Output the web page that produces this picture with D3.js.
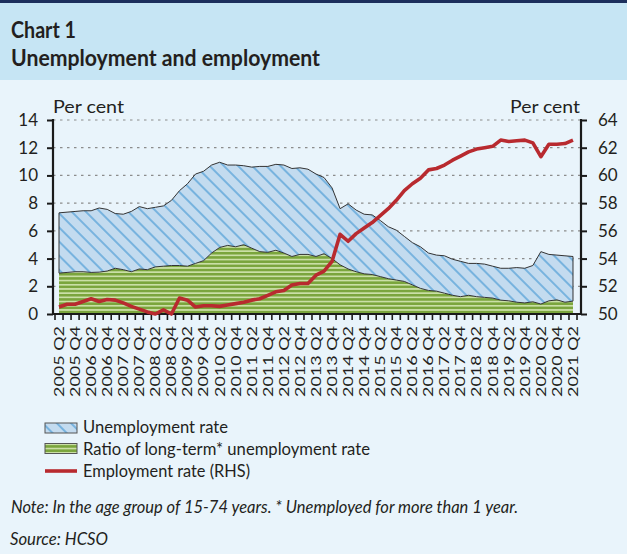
<!DOCTYPE html>
<html lang="en">
<head>
<meta charset="UTF-8">
<title>Chart 1 - Unemployment and employment</title>
<script src="https://d3js.org/d3.v7.min.js"></script>
<style>
    body { margin: 0; background: #e9f4fb; }
    svg { display: block; }
    text { font-family: Lato, "Open Sans", sans-serif; fill: #231f20; }
</style>
</head>
<body>
<svg width="627" height="554"></svg>
<script>
// quarters 2005 Q2 .. 2021 Q2
const quarters = [
    "2005 Q2", "2005 Q3", "2005 Q4",
    "2006 Q1", "2006 Q2", "2006 Q3", "2006 Q4",
    "2007 Q1", "2007 Q2", "2007 Q3", "2007 Q4",
    "2008 Q1", "2008 Q2", "2008 Q3", "2008 Q4",
    "2009 Q1", "2009 Q2", "2009 Q3", "2009 Q4",
    "2010 Q1", "2010 Q2", "2010 Q3", "2010 Q4",
    "2011 Q1", "2011 Q2", "2011 Q3", "2011 Q4",
    "2012 Q1", "2012 Q2", "2012 Q3", "2012 Q4",
    "2013 Q1", "2013 Q2", "2013 Q3", "2013 Q4",
    "2014 Q1", "2014 Q2", "2014 Q3", "2014 Q4",
    "2015 Q1", "2015 Q2", "2015 Q3", "2015 Q4",
    "2016 Q1", "2016 Q2", "2016 Q3", "2016 Q4",
    "2017 Q1", "2017 Q2", "2017 Q3", "2017 Q4",
    "2018 Q1", "2018 Q2", "2018 Q3", "2018 Q4",
    "2019 Q1", "2019 Q2", "2019 Q3", "2019 Q4",
    "2020 Q1", "2020 Q2", "2020 Q3", "2020 Q4",
    "2021 Q1", "2021 Q2"
];

// unemployment rate, per cent (left axis)
const unemployment = [
    7.3, 7.35, 7.4, 7.45, 7.45, 7.65, 7.55, 7.25, 7.2, 7.4,
    7.75, 7.6, 7.7, 7.8, 8.2, 8.9, 9.4, 10.1, 10.3, 10.75,
    10.95, 10.75, 10.75, 10.7, 10.6, 10.65, 10.65, 10.8, 10.75, 10.5,
    10.55, 10.45, 10.1, 9.85, 9.1, 7.6, 7.95, 7.5, 7.2, 7.15,
    6.75, 6.3, 6.05, 5.6, 5.15, 4.85, 4.4, 4.25, 4.2, 3.95,
    3.8, 3.65, 3.65, 3.6, 3.45, 3.3, 3.3, 3.35, 3.3, 3.5,
    4.5, 4.3, 4.25, 4.2, 4.15
];

// long-term (more than 1 year) unemployment, per cent (left axis)
const longTerm = [
    2.95, 3.0, 3.05, 3.05, 3.0, 3.02, 3.1, 3.3, 3.2, 3.05,
    3.25, 3.2, 3.4, 3.45, 3.5, 3.5, 3.45, 3.65, 3.85, 4.4,
    4.8, 4.95, 4.85, 5.0, 4.75, 4.5, 4.45, 4.6, 4.4, 4.15,
    4.3, 4.3, 4.15, 4.35, 4.0, 3.55, 3.25, 3.05, 2.9, 2.85,
    2.7, 2.55, 2.45, 2.35, 2.1, 1.85, 1.7, 1.65, 1.5, 1.35,
    1.25, 1.35, 1.25, 1.2, 1.15, 1.0, 0.95, 0.85, 0.8, 0.88,
    0.72, 0.95, 1.02, 0.85, 0.93
];

// employment rate, per cent (right axis)
const employment = [
    50.5, 50.7, 50.7, 50.9, 51.1, 50.9, 51.05, 51.0, 50.8, 50.55,
    50.35, 50.15, 50.0, 50.3, 50.0, 51.15, 51.0, 50.5, 50.6, 50.6,
    50.55, 50.65, 50.75, 50.85, 51.0, 51.1, 51.35, 51.6, 51.7, 52.1,
    52.2, 52.2, 52.8, 53.1, 53.8, 55.75, 55.25, 55.8, 56.2, 56.6,
    57.1, 57.6, 58.2, 58.9, 59.4, 59.8, 60.4, 60.5, 60.75, 61.1,
    61.4, 61.7, 61.9, 62.0, 62.1, 62.55, 62.45, 62.5, 62.55, 62.35,
    61.35, 62.25, 62.25, 62.3, 62.55
];

const leftTicks = [0, 2, 4, 6, 8, 10, 12, 14];
const rightTicks = [50, 52, 54, 56, 58, 60, 62, 64];
const legendLabels = ["Unemployment rate", "Ratio of long-term* unemployment rate", "Employment rate (RHS)"];

const svg = d3.select("svg");

// backgrounds and title band
svg.append("rect").attr("width", 627).attr("height", 554).attr("fill", "#e9f4fb");
svg.append("rect").attr("width", 627).attr("height", 80).attr("fill", "#c6e5f4");
svg.append("rect").attr("width", 627).attr("height", 3).attr("fill", "#1c2f5c");

// fit a text to a measured width
function fitText(sel, w) {
    sel.attr("textLength", w).attr("lengthAdjust", "spacingAndGlyphs");
    return sel;
}

fitText(svg.append("text").attr("x", 11).attr("y", 37.5)
    .attr("font-size", 22).attr("font-weight", 700).text("Chart 1"), 65);
fitText(svg.append("text").attr("x", 11).attr("y", 65.5)
    .attr("font-size", 22).attr("font-weight", 700).text("Unemployment and employment"), 309);

// patterns
const defs = svg.append("defs");
const hatch = defs.append("pattern").attr("id", "hatch")
    .attr("patternUnits", "userSpaceOnUse").attr("width", 10).attr("height", 10)
    .attr("patternTransform", "rotate(-45)");
hatch.append("rect").attr("width", 10).attr("height", 10).attr("fill", "#c3dbef");
hatch.append("line").attr("x1", 1).attr("x2", 1).attr("y1", 0).attr("y2", 10)
    .attr("stroke", "#6aacdc").attr("stroke-width", 1.7);

const stripes = defs.append("pattern").attr("id", "stripes")
    .attr("patternUnits", "userSpaceOnUse").attr("width", 10).attr("height", 4.2);
stripes.append("rect").attr("width", 10).attr("height", 4.2).attr("fill", "#cadfa6");
stripes.append("rect").attr("y", 0).attr("width", 10).attr("height", 2.5).attr("fill", "#7aa53c");

// scales
const band = d3.scaleBand().domain(quarters).range([55, 577]);
const x = q => band(q) + band.bandwidth() / 2;
const y = d3.scaleLinear().domain([0, 14]).range([314, 120]);
const y2 = d3.scaleLinear().domain([50, 64]).range([314, 120]);

// gridlines
svg.append("g").selectAll("line")
    .data(leftTicks.filter(d => d > 0))
    .join("line")
    .attr("x1", 53).attr("x2", 581)
    .attr("y1", d => y(d)).attr("y2", d => y(d))
    .attr("stroke", "#8c8c8c").attr("stroke-width", 1.2)
    .attr("stroke-dasharray", "2.5,4.5");

// areas
const greenArea = d3.area()
    .x((d, i) => x(quarters[i]))
    .y0(y(0))
    .y1(d => y(d));
svg.append("path").datum(longTerm)
    .attr("d", greenArea)
    .attr("fill", "url(#stripes)");

const blueArea = d3.area()
    .x((d, i) => x(quarters[i]))
    .y0((d, i) => y(longTerm[i]))
    .y1(d => y(d));
svg.append("path").datum(unemployment)
    .attr("d", blueArea)
    .attr("fill", "url(#hatch)")
    .attr("stroke", "#333")
    .attr("stroke-width", 1)
    .attr("stroke-linejoin", "round");

// axes
const leftAxis = svg.append("g").attr("transform", "translate(53,0)")
    .call(d3.axisLeft(y).tickValues(leftTicks).tickSize(6).tickSizeOuter(0).tickPadding(9));
const rightAxis = svg.append("g").attr("transform", "translate(581,0)")
    .call(d3.axisRight(y2).tickValues(rightTicks).tickSize(6).tickSizeOuter(0).tickPadding(11));
[leftAxis, rightAxis].forEach(a => {
    a.select(".domain").attr("stroke", "#1a1a1a").attr("stroke-width", 2.2);
    a.selectAll(".tick line").attr("stroke", "#1a1a1a").attr("stroke-width", 2);
    a.selectAll(".tick text").attr("font-family", "Lato, sans-serif")
        .attr("font-size", 17).attr("fill", "#231f20");
});
leftAxis.selectAll(".domain").attr("d", "M0,314V119");
rightAxis.selectAll(".domain").attr("d", "M0,314V119");

// bottom axis
const bottom = svg.append("g");
bottom.selectAll("line.tk")
    .data(quarters.concat(["end"]))
    .join("line")
    .attr("class", "tk")
    .attr("x1", q => q === "end" ? 577 : band(q))
    .attr("x2", q => q === "end" ? 577 : band(q))
    .attr("y1", 314).attr("y2", 320)
    .attr("stroke", "#1a1a1a").attr("stroke-width", 1.6);
bottom.append("line").attr("x1", 52).attr("x2", 582).attr("y1", 314).attr("y2", 314)
    .attr("stroke", "#1a1a1a").attr("stroke-width", 2.2);

bottom.selectAll("text")
    .data(quarters.filter((q, i) => i % 2 === 0))
    .join("text")
    .attr("transform", q => `translate(${x(q)},326) rotate(-90)`)
    .attr("text-anchor", "end")
    .attr("dy", "0.36em")
    .attr("font-family", "'Liberation Sans', Arial, sans-serif")
    .attr("font-size", 13.5)
    .attr("textLength", 71).attr("lengthAdjust", "spacingAndGlyphs")
    .text(q => q);

// employment line
const empLine = d3.line()
    .x((d, i) => x(quarters[i]))
    .y(d => y2(d));
svg.append("path").datum(employment)
    .attr("d", empLine)
    .attr("fill", "none")
    .attr("stroke", "#b82a2f")
    .attr("stroke-width", 3.6)
    .attr("stroke-linejoin", "round");

// axis titles
fitText(svg.append("text").attr("x", 53).attr("y", 113).attr("font-size", 17).text("Per cent"), 71);
fitText(svg.append("text").attr("x", 510).attr("y", 113).attr("font-size", 17).text("Per cent"), 70);

// legend
const legend = svg.append("g");
legend.append("rect").attr("x", 45).attr("y", 423).attr("width", 32).attr("height", 10)
    .attr("fill", "url(#hatch)").attr("stroke", "#555").attr("stroke-width", 1);
legend.append("rect").attr("x", 45).attr("y", 443.5).attr("width", 32).attr("height", 10)
    .attr("fill", "url(#stripes)").attr("stroke", "#555").attr("stroke-width", 1);
legend.append("line").attr("x1", 45).attr("x2", 77).attr("y1", 471).attr("y2", 471)
    .attr("stroke", "#b82a2f").attr("stroke-width", 3.6);
const legendWidths = [145, 287, 167];
legendLabels.forEach((t, i) => {
    fitText(legend.append("text").attr("x", 83).attr("y", 432.5 + i * 22)
        .attr("font-size", 17).text(t), legendWidths[i]);
});

// note and source
fitText(svg.append("text").attr("x", 11).attr("y", 513).attr("font-size", 18)
    .attr("font-style", "italic")
    .text("Note: In the age group of 15-74 years. * Unemployed for more than 1 year."), 507);
fitText(svg.append("text").attr("x", 10).attr("y", 545).attr("font-size", 18)
    .attr("font-style", "italic").text("Source: HCSO"), 98);
</script>
</body>
</html>
